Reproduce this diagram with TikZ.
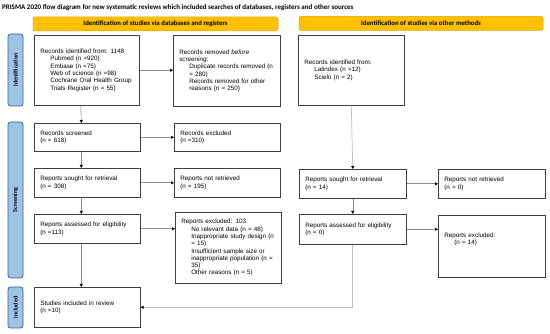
\documentclass[tikz,border=0pt]{standalone}
\usepackage{fontspec}
\setmainfont{Liberation Sans}
\newfontfamily\headfont{Carlito}
\usepackage{tikz}
\usetikzlibrary{arrows.meta, positioning}
\definecolor{PrismaYellow}{HTML}{FFC000}
\definecolor{PrismaYellowEdge}{HTML}{E3A900}
\definecolor{PhaseBlue}{HTML}{9DC3E6}
\definecolor{PhaseEdge}{HTML}{3E5F86}
\definecolor{BoxFrame}{HTML}{404040}
\definecolor{LinkGray}{HTML}{8C8C8C}
\definecolor{LinkLight}{HTML}{BFBFBF}
\tikzset{
  recbox/.style={draw=BoxFrame, fill=white, rectangle, line width=0.6pt,
                 anchor=north west, inner xsep=6pt, inner ysep=2pt, align=left,
                 font=\fontsize{6.3}{7.3}\selectfont},
  headbar/.style={draw=PrismaYellowEdge, fill=PrismaYellow, rectangle,
                  rounded corners=2pt, line width=0.5pt, minimum height=14pt,
                  inner sep=0pt, font=\headfont\bfseries\fontsize{6.8}{7.5}\selectfont},
  phasebar/.style={draw=PhaseEdge, fill=PhaseBlue, rectangle, rounded corners=2.5pt,
                   line width=0.7pt, rotate=90, minimum height=15pt, inner sep=0pt,
                   font=\headfont\bfseries\fontsize{6}{6.5}\selectfont},
  arrowstd/.style={-{Triangle[length=3pt, width=3pt, color=black]}, draw=LinkGray,
                   line width=0.6pt},
  arrowlight/.style={-{Triangle[length=3pt, width=3pt, color=black]}, draw=LinkLight,
                     line width=0.7pt}
}
\newcommand{\ind}{\hspace*{10pt}}

\begin{document}
\begin{tikzpicture}[x=1pt, y=-1pt]
  \useasboundingbox (0,0) rectangle (550,334);

  \node[anchor=base west, inner sep=0pt, font=\headfont\bfseries\fontsize{7}{8}\selectfont] (title) at (2,10)
    {PRISMA 2020 flow diagram for new systematic reviews which included searches of databases, registers and other sources};
  \node[headbar, minimum width=245pt] (dbhead) at (155.5,24) {Identification of studies via databases and registers};
  \node[headbar, minimum width=244pt] (otherhead) at (421,23.5) {Identification of studies via other methods};

  \node[phasebar, minimum width=72pt]  (idphase)     at (15.5,70)    {Identification};
  \node[phasebar, minimum width=156pt] (screenphase) at (15.5,200)   {Screening};
  \node[phasebar, minimum width=41pt]  (inclphase)   at (15.5,307.5) {Included};

  \node[recbox, text width=93pt, minimum height=70pt] (ident) at (34,35)
    {Records identified from: 1148\\\ind Pubmed (n =920)\\\ind Embase (n =75)\\\ind Web of science (n =98)\\\ind Cochrane Oral Health Group\\\ind Trials Register (n = 55)};
  \node[recbox, text width=95pt, minimum height=71pt] (removed) at (173,35)
    {Records removed \textit{before}\\\textit{screening}:\\\ind Duplicate records removed (n\\\ind = 280)\\\ind Records removed for other\\\ind reasons (n = 250)};
  \node[recbox, text width=94pt, minimum height=70pt] (otherident) at (298,35)
    {Records identified from:\\\ind Latindex (n =12)\\\ind Scielo (n = 2)};

  \node[recbox, text width=94pt, minimum height=28pt] (screened) at (34,123) {Records screened\\(n = 618)};
  \node[recbox, text width=94pt, minimum height=28pt] (excluded) at (174,123) {Records excluded\\(n =310)};

  \node[recbox, text width=94pt, minimum height=29pt] (sought) at (34,168) {Reports sought for retrieval\\(n = 308)};
  \node[recbox, text width=94pt, minimum height=29pt] (notfound) at (174,168) {Reports not retrieved\\(n = 195)};
  \node[recbox, text width=95pt, minimum height=29pt] (othersought) at (299,169) {Reports sought for retrieval\\(n = 14)};
  \node[recbox, text width=95pt, minimum height=29pt] (othernotfound) at (438,169) {Reports not retrieved\\(n = 0)};

  \node[recbox, text width=94pt, minimum height=29pt] (assessed) at (34,214) {Reports assessed for eligibility\\(n =113)};
  \node[recbox, text width=94pt, minimum height=71pt] (dropped) at (175,212)
    {Reports excluded: 103\\\ind No relevant data (n = 48)\\\ind Inappropriate study design (n\\\ind = 15)\\\ind Insufficient sample size or\\\ind inappropriate population (n =\\\ind 35)\\\ind Other reasons (n = 5)};
  \node[recbox, text width=95pt, minimum height=30pt] (otherassessed) at (299,214) {Reports assessed for eligibility\\(n = 0)};
  \node[recbox, text width=95pt, minimum height=62pt] (otherdropped) at (438,215) {Reports excluded:\\\ind(n = 14)\\~\\~};

  \node[recbox, text width=94pt, minimum height=40pt] (included) at (34,287) {Studies included in review\\(n =10)};

  \draw[arrowstd] (ident.east) -- (ident.east -| removed.west);
  \draw[arrowstd] (screened.east) -- (screened.east -| excluded.west);
  \draw[arrowstd] (sought.east) -- (sought.east -| notfound.west);
  \draw[arrowstd] (assessed.east) -- (assessed.east -| dropped.west);
  \draw[arrowstd] ([xshift=-6pt]ident.south) -- ([xshift=-6pt]screened.north);
  \draw[arrowstd] ([xshift=-6pt]screened.south) -- ([xshift=-6pt]sought.north);
  \draw[arrowstd] ([xshift=-6pt]sought.south) -- ([xshift=-6pt]assessed.north);
  \draw[arrowstd] ([xshift=-6pt]assessed.south) -- ([xshift=-6pt]included.north);

  \draw[arrowlight] (otherident.south) -- (othersought.north);
  \draw[arrowstd] (othersought.east) -- (othersought.east -| othernotfound.west);
  \draw[arrowstd] (othersought.south) -- (otherassessed.north);
  \draw[arrowstd] (otherassessed.east) -- (otherassessed.east -| otherdropped.west);
  \draw[arrowlight] (otherassessed.south) |- (included.east);
\end{tikzpicture}
\end{document}
